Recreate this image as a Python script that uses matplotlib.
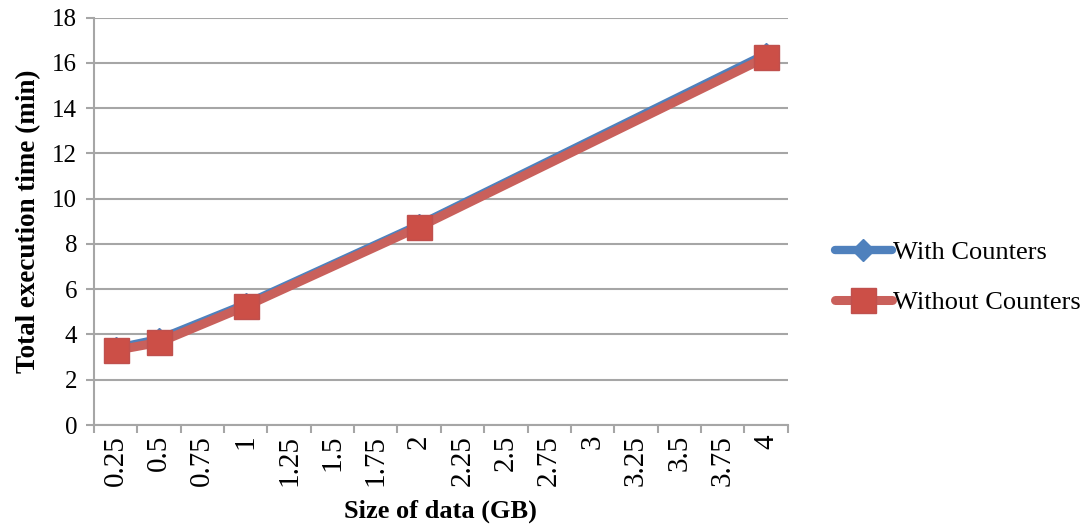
import numpy as np
import matplotlib
matplotlib.use('Agg')
import matplotlib.pyplot as plt
from matplotlib.ticker import FixedLocator

plt.rcParams['font.family'] = ['Liberation Serif', 'DejaVu Serif']

categories = ['0.25', '0.5', '0.75', '1', '1.25', '1.5', '1.75', '2',
              '2.25', '2.5', '2.75', '3', '3.25', '3.5', '3.75', '4']
measured = ['0.25', '0.5', '1', '2', '4']
with_counters = [3.4, 3.8, 5.35, 8.85, 16.4]
without_counters = [3.3, 3.65, 5.25, 8.75, 16.25]

xpos = [categories.index(c) for c in measured]
grey = '#a6a6a6'

fig = plt.figure(figsize=(10.89, 5.27), dpi=100)
ax = fig.add_axes([0.0863, 0.1935, 0.637, 0.773])

ax.plot(xpos, with_counters, color='#4f81bd', lw=6, marker='D', ms=11,
        mfc='#4f81bd', mec='#4f81bd', solid_capstyle='round', label='With Counters', zorder=3)
ax.plot(xpos, without_counters, color='#c9605b', lw=6.5, marker='s', ms=18,
        mfc='#cc4f47', mec='#c0504d', solid_capstyle='round', label='Without Counters', zorder=4)

ax.set_xlim(-0.5, len(categories) - 0.5)
ax.set_ylim(0, 18)
ax.set_yticks(np.arange(0, 19, 2))
ax.set_xticks(range(len(categories)))
ax.set_xticklabels(categories, rotation=90, fontsize=21)
ax.xaxis.set_minor_locator(FixedLocator(np.arange(-0.5, len(categories), 1)))
ax.tick_params(axis='x', which='major', length=0, pad=7)
ax.tick_params(axis='x', which='minor', length=6, width=1.5, color=grey)
ax.tick_params(axis='y', length=6, width=1.5, color=grey, labelsize=18, pad=6)

ax.yaxis.grid(True, color=grey, lw=1.5)
ax.set_axisbelow(True)
for s in ['top', 'right']:
    ax.spines[s].set_visible(False)
for s in ['left', 'bottom']:
    ax.spines[s].set_color(grey)
    ax.spines[s].set_linewidth(1.5)

ax.set_xlabel('Size of data (GB)', fontsize=19, fontweight='bold', labelpad=10)
ax.set_ylabel('Total execution time (min)', fontsize=19.5, fontweight='bold', labelpad=8)

fig.legend(loc='center left', bbox_to_anchor=(0.7545, 0.474), frameon=False,
           fontsize=19, handlelength=2.15, handletextpad=0.05, labelspacing=1.0,
           borderpad=0)

fig.savefig('out.png', dpi=100)
